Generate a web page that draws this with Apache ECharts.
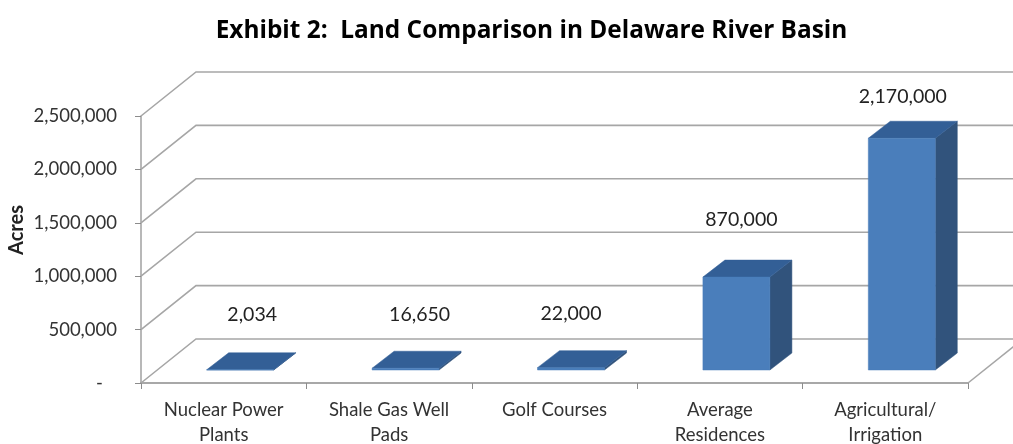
<!DOCTYPE html>
<html><head><meta charset="utf-8">
<style>html,body{margin:0;padding:0;background:#fff}#c{width:1013px;height:444px}</style>
<script src="https://cdn.jsdelivr.net/npm/echarts@6/dist/echarts.min.js"></script>
</head><body><div id="c"></div>
<script>
const categories = ['Nuclear Power\nPlants','Shale Gas Well\nPads','Golf Courses','Average\nResidences','Agricultural/\nIrrigation'];
const acres = [2034,16650,22000,870000,2170000];
const gridValues = [0,500000,1000000,1500000,2000000,2500000];

// 3-D look: pixel offsets of the back wall and of the bars' depth
const WALL = {dx:55, dy:-44};
const BAR = {dx:22, dy:-17, shiftX:16.5, shiftY:-13, widthRatio:0.405};
const LABEL_SHIFT = [[12,-55],[14,-54],[0,-54],[5,-57],[1,-42]];

const chart = echarts.init(document.getElementById('c'));
chart.setOption({
  animation:false,
  backgroundColor:'#fff',
  title:{text:'Exhibit 2:  Land Comparison in Delaware River Basin',left:531,top:14,textAlign:'center',
    textStyle:{fontFamily:'Open Sans',fontWeight:'bold',fontSize:24.4,color:'#000'}},
  graphic:[{type:'text',x:17,y:230,rotation:Math.PI/2,originX:0,originY:0,
    style:{text:'Acres',fontFamily:'Lato',fontWeight:'bold',fontSize:20,fill:'#222',align:'center',verticalAlign:'middle'}}],
  grid:{left:141,right:45,top:116,bottom:61,outerBoundsMode:'none'},
  xAxis:{type:'category',data:categories,
    axisLine:{lineStyle:{color:'#8c8c8c',width:1.5}},
    axisTick:{show:true,length:6,lineStyle:{color:'#8c8c8c'}},
    axisLabel:{interval:0,fontFamily:'Lato',fontSize:18.5,color:'#333',lineHeight:25,margin:15}},
  yAxis:{type:'value',min:0,max:2500000,interval:500000,
    axisLine:{show:true,lineStyle:{color:'#a0a0a0',width:1.5}},
    axisTick:{show:true,length:6,lineStyle:{color:'#8c8c8c'}},
    splitLine:{show:false},
    axisLabel:{fontFamily:'Lato',fontSize:18.5,color:'#333',margin:24,padding:[3,0,0,0],
      formatter:v=>v===0?'-\u00A0\u00A0\u00A0':v.toLocaleString('en-US')}},
  series:[
    {type:'custom',clip:false,silent:true,z:1,encode:{x:0,y:1},
     data:gridValues.map(v=>[0,v]),
     renderItem(params,api){
       const cs=params.coordSys, y=api.coord([0,api.value(1)])[1];
       const x0=cs.x, x1=cs.x+cs.width;
       const style={stroke:'#a6a6a6',lineWidth:1.6,fill:null};
       const points=[[x0,y],[x0+WALL.dx,y+WALL.dy],[x1+WALL.dx,y+WALL.dy]];
       const children=[{type:'polyline',shape:{points},style}];
       if(api.value(1)===0) children.push({type:'polyline',shape:{points:[[x1,y],[x1+WALL.dx,y+WALL.dy]]},style});
       return {type:'group',children};
     }},
    {type:'custom',clip:false,silent:true,z:2,encode:{x:0,y:1},
     data:acres.map((v,i)=>[i,v]),
     renderItem(params,api){
       const i=api.value(0), v=api.value(1);
       const base=api.coord([i,0]), top=api.coord([i,v]);
       const w=api.size([1,0])[0]*BAR.widthRatio;
       const l=base[0]+BAR.shiftX-w/2, r=l+w;
       const b=base[1]+BAR.shiftY, t=top[1]+BAR.shiftY;
       const d=BAR;
       const poly=(points,fill)=>({type:'polygon',shape:{points},style:{fill,stroke:fill,lineWidth:0.5}});
       const s=LABEL_SHIFT[i];
       return {type:'group',children:[
         poly([[r,b],[r+d.dx,b+d.dy],[r+d.dx,t+d.dy],[r,t]],'#31537c'),
         poly([[l,t],[r,t],[r+d.dx,t+d.dy],[l+d.dx,t+d.dy]],'#335f96'),
         poly([[l,b],[r,b],[r,t],[l,t]],'#4a7ebb'),
         {type:'text',style:{text:v.toLocaleString('en-US'),x:(l+r)/2+s[0],y:t+s[1],
           fontFamily:'Lato',fontSize:19.5,fill:'#222',align:'center',verticalAlign:'middle'}}
       ]};
     }}
  ]
});
chart.setOption({title:{left:526.5}});
</script></body></html>
